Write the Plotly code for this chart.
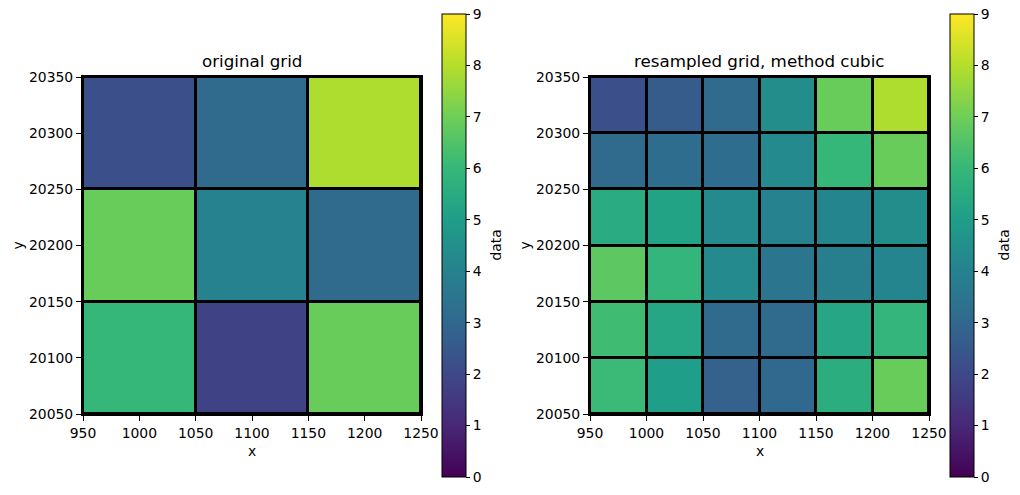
import plotly.graph_objects as go

# ---- data ----
orig_x_edges = [950, 1050, 1150, 1250]
orig_y_edges = [20050, 20150, 20250, 20350]
# rows listed from bottom (y=20050) to top
orig_values = [
    [6.0, 1.8, 6.9],
    [6.9, 4.0, 3.1],
    [2.2, 3.1, 7.9],
]

res_x_edges = [950, 1000, 1050, 1100, 1150, 1200, 1250]
res_y_edges = [20050, 20100, 20150, 20200, 20250, 20300, 20350]
res_values = [
    [6.1, 5.0, 2.8, 3.0, 5.6, 6.9],
    [6.2, 5.3, 3.1, 3.1, 5.3, 5.9],
    [6.7, 5.9, 4.3, 3.5, 3.9, 4.1],
    [5.5, 5.2, 4.3, 4.0, 4.1, 4.4],
    [3.1, 3.2, 3.2, 4.3, 6.0, 6.9],
    [2.2, 2.6, 3.1, 4.4, 6.9, 7.9],
]

xticks = [950, 1000, 1050, 1100, 1150, 1200, 1250]
yticks = [20050, 20100, 20150, 20200, 20250, 20300, 20350]
cbar_ticks = list(range(0, 10))
titles = ["original grid", "resampled grid, method cubic"]

W, H = 1020, 495
FONT = "DejaVu Sans"
TICK = 13.9

def px_x(p):
    return p / W

def px_y(p):
    return (H - p) / H

ax_left = [(83, 421), (590, 929)]
ax_top, ax_bot = 77, 414
cb_left = [442, 950]
cb_top, cb_bot = 14, 477

fig = go.Figure()

datasets = [
    (orig_x_edges, orig_y_edges, orig_values),
    (res_x_edges, res_y_edges, res_values),
]

for i, (xe, ye, z) in enumerate(datasets):
    sfx = "" if i == 0 else "2"
    fig.add_trace(go.Heatmap(
        x=xe, y=ye, z=z,
        colorscale="Viridis", zmin=0, zmax=9,
        xgap=3, ygap=3,
        xaxis="x" + sfx, yaxis="y" + sfx,
        colorbar=dict(
            x=px_x(cb_left[i]), xanchor="left",
            y=px_y((cb_top + cb_bot) / 2), yanchor="middle",
            lenmode="pixels", len=cb_bot - cb_top,
            thickness=24, thicknessmode="pixels",
            xpad=0, ypad=0,
            outlinecolor="black", outlinewidth=1,
            ticks="outside", ticklen=4, tickwidth=1, tickcolor="black",
            tickvals=cbar_ticks,
            tickfont=dict(family=FONT, size=TICK, color="black"),
        ),
    ))

axis_common = dict(
    showgrid=False, zeroline=False, automargin=False,
    showline=True, linecolor="black", linewidth=2, mirror=True,
    ticks="outside", ticklen=5, tickwidth=1, tickcolor="black",
    tickformat="d",
    tickfont=dict(family=FONT, size=TICK, color="black"),
)

layout = dict(
    width=W, height=H,
    margin=dict(l=0, r=0, t=0, b=0, autoexpand=False),
    paper_bgcolor="white", plot_bgcolor="black",
    showlegend=False,
)

annotations = []
for i in range(2):
    sfx = "" if i == 0 else "2"
    l, r = ax_left[i]
    layout["xaxis" + sfx] = dict(
        axis_common, domain=[px_x(l), px_x(r)], range=[950, 1250],
        tickvals=xticks, anchor="y" + sfx,
    )
    layout["yaxis" + sfx] = dict(
        axis_common, domain=[px_y(ax_bot), px_y(ax_top)], range=[20050, 20350],
        tickvals=yticks, anchor="x" + sfx,
    )
    cx = px_x((l + r) / 2)
    annotations.append(dict(
        text=titles[i], x=cx, y=px_y(ax_top - 4), xref="paper", yref="paper",
        xanchor="center", yanchor="bottom", showarrow=False,
        font=dict(family=FONT, size=16.7, color="black"),
    ))
    annotations.append(dict(
        text="x", x=cx, y=px_y(451), xref="paper", yref="paper",
        xanchor="center", yanchor="middle", showarrow=False,
        font=dict(family=FONT, size=TICK, color="black"),
    ))
    annotations.append(dict(
        text="y", x=px_x(l - 66), y=px_y((ax_top + ax_bot) / 2),
        xref="paper", yref="paper", textangle=-90,
        xanchor="center", yanchor="middle", showarrow=False,
        font=dict(family=FONT, size=TICK, color="black"),
    ))
    annotations.append(dict(
        text="data", x=px_x(cb_left[i] + 53), y=px_y((cb_top + cb_bot) / 2),
        xref="paper", yref="paper", textangle=-90,
        xanchor="center", yanchor="middle", showarrow=False,
        font=dict(family=FONT, size=TICK, color="black"),
    ))

layout["annotations"] = annotations
fig.update_layout(**layout)
fig.write_html("out.html")
